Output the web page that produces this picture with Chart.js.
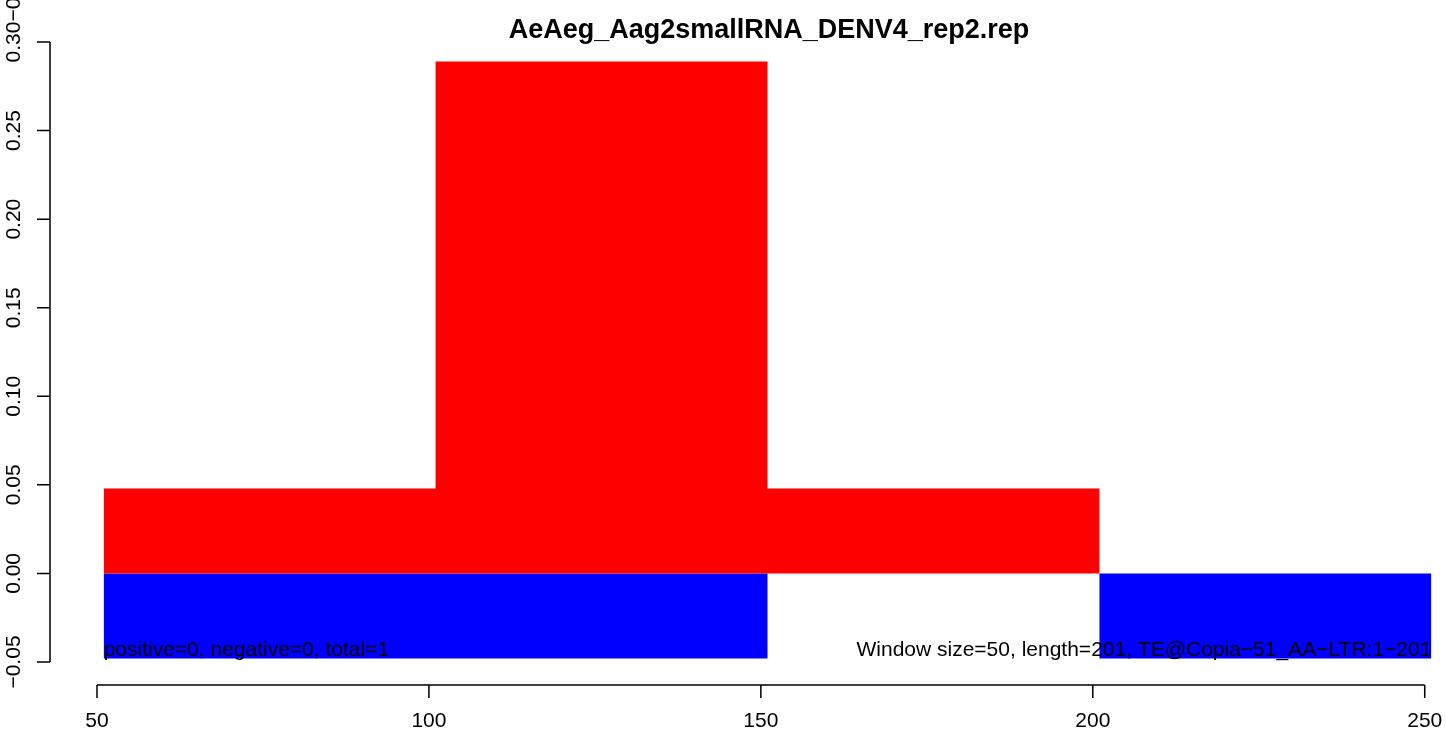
<!DOCTYPE html>
<html>
<head>
<meta charset="utf-8">
<script src="https://cdn.jsdelivr.net/npm/chart.js@4/dist/chart.umd.min.js"></script>
<style>
  body { margin: 0; background: #fff; }
</style>
</head>
<body>
<canvas id="winChart" width="1446" height="734"></canvas>
<script>
// window bins (start position), width 50
var binStarts = [51, 101, 151, 201];
var binWidth = 50;
var positiveVals = [0.048, 0.289, 0.048, 0];
var negativeVals = [-0.048, -0.048, 0, -0.048];
var xTicks = [50, 100, 150, 200, 250];
var yTicks = [-0.05, 0.00, 0.05, 0.10, 0.15, 0.20, 0.25, 0.30];
var titleText = 'AeAeg_Aag2smallRNA_DENV4_rep2.rep';
var leftNote = 'positive=0, negative=0, total=1';
var rightNote = 'Window size=50, length=201, TE@Copia\u221251_AA\u2212LTR:1\u2212201';

// step points: value holds from bin start to next bin start
function stepPoints(vals) {
    var pts = [];
    for (var i = 0; i < binStarts.length; i++) {
        pts.push({x: binStarts[i], y: vals[i]});
    }
    pts.push({x: binStarts[binStarts.length - 1] + binWidth, y: 0});
    return pts;
}

function fmtTick(v) {
    var s = Math.abs(v).toFixed(2);
    return v < -1e-9 ? '\u2212' + s : s;
}

var FONT = '"Liberation Sans", Arial, Helvetica, sans-serif';

var rAxes = {
    id: 'rAxes',
    afterDraw: function(chart) {
        var ctx = chart.ctx;
        var xs = chart.scales.x, ys = chart.scales.y;
        ctx.save();
        ctx.strokeStyle = '#000';
        ctx.lineWidth = 1.5;
        ctx.fillStyle = '#000';

        // y axis, R style (detached)
        var ax = 50;
        ctx.beginPath();
        ctx.moveTo(ax, ys.getPixelForValue(yTicks[0]));
        ctx.lineTo(ax, ys.getPixelForValue(yTicks[yTicks.length - 1]));
        yTicks.forEach(function(t) {
            var py = ys.getPixelForValue(t);
            ctx.moveTo(ax, py);
            ctx.lineTo(ax - 13, py);
        });
        ctx.stroke();
        ctx.font = '21px ' + FONT;
        ctx.textAlign = 'center';
        ctx.textBaseline = 'middle';
        yTicks.forEach(function(t, i) {
            var py = ys.getPixelForValue(t);
            ctx.save();
            ctx.translate(14, py);
            ctx.rotate(-Math.PI / 2);
            ctx.fillText(fmtTick(t), 0, 0);
            if (i === yTicks.length - 1) {
                var w = ctx.measureText(fmtTick(t)).width;
                ctx.textAlign = 'left';
                ctx.fillText('\u22120', w / 2, 0);
            }
            ctx.restore();
        });

        // x axis
        var ay = 685;
        ctx.beginPath();
        ctx.moveTo(xs.getPixelForValue(xTicks[0]), ay);
        ctx.lineTo(xs.getPixelForValue(xTicks[xTicks.length - 1]), ay);
        xTicks.forEach(function(t) {
            var px = xs.getPixelForValue(t);
            ctx.moveTo(px, ay);
            ctx.lineTo(px, ay + 13);
        });
        ctx.stroke();
        ctx.textBaseline = 'middle';
        ctx.textAlign = 'center';
        xTicks.forEach(function(t) {
            ctx.fillText(String(t), xs.getPixelForValue(t), 721);
        });

        // notes inside the plot
        ctx.textBaseline = 'alphabetic';
        ctx.textAlign = 'left';
        ctx.fillText(leftNote, xs.getPixelForValue(binStarts[0]), 656);
        ctx.textAlign = 'right';
        ctx.fillText(rightNote, xs.getPixelForValue(binStarts[3] + binWidth), 656);

        // title
        ctx.font = 'bold 27px ' + FONT;
        ctx.textAlign = 'center';
        ctx.textBaseline = 'middle';
        ctx.fillText(titleText, 769, 31);
        ctx.restore();
    }
};

var ctxEl = document.getElementById('winChart');
var winChart = new Chart(ctxEl, {
    type: 'line',
    data: {
        datasets: [{
            label: 'positive',
            data: stepPoints(positiveVals),
            stepped: 'before',
            fill: 'origin',
            backgroundColor: '#ff0000',
            borderColor: '#ff0000',
            borderWidth: 0,
            pointRadius: 0,
            clip: false
        }, {
            label: 'negative',
            data: stepPoints(negativeVals),
            stepped: 'before',
            fill: 'origin',
            backgroundColor: '#0000ff',
            borderColor: '#0000ff',
            borderWidth: 0,
            pointRadius: 0,
            clip: false
        }]
    },
    options: {
        responsive: false,
        animation: false,
        layout: {
            padding: {left: 97, right: 8, top: 42, bottom: 72}
        },
        plugins: {
            legend: {display: false},
            tooltip: {enabled: false},
            title: {display: false}
        },
        scales: {
            x: {type: 'linear', min: 50, max: 252, display: false},
            y: {type: 'linear', min: -0.05, max: 0.30, display: false}
        }
    },
    plugins: [rAxes]
});
</script>
</body>
</html>
